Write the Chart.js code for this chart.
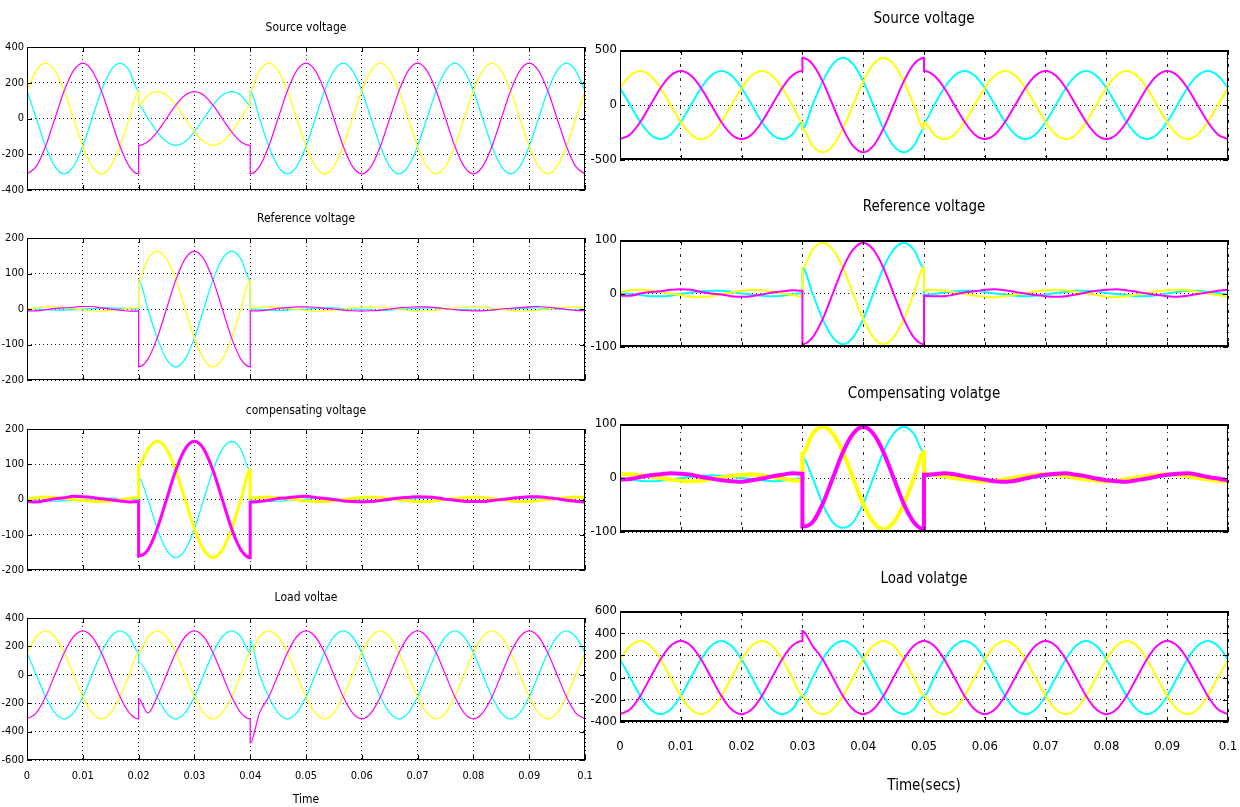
<!DOCTYPE html>
<html>
<head>
<meta charset="utf-8">
<script src="https://cdn.jsdelivr.net/npm/chart.js@4.4.1/dist/chart.umd.min.js"></script>
<style>
html, body { margin: 0; padding: 0; background: #fff; }
body { width: 1240px; height: 807px; position: relative; overflow: hidden; }
canvas { position: absolute; }
</style>
</head>
<body>
<canvas id="l1" width="600" height="181" style="left:0;top:18px"></canvas>
<canvas id="l2" width="600" height="180" style="left:0;top:209px"></canvas>
<canvas id="l3" width="600" height="178" style="left:0;top:401px"></canvas>
<canvas id="l4" width="600" height="219" style="left:0;top:588px"></canvas>
<canvas id="r1" width="650" height="162" style="left:590px;top:8px"></canvas>
<canvas id="r2" width="650" height="161" style="left:590px;top:196px"></canvas>
<canvas id="r3" width="650" height="159" style="left:590px;top:383px"></canvas>
<canvas id="r4" width="650" height="231" style="left:590px;top:568px"></canvas>
<script>
// time samples (s); a repeated time marks a step change
const leftTime = [0,0.00167,0.00333,0.005,0.00667,0.00833,0.01,0.01167,0.01333,0.015,0.01667,0.01833,0.02,
  0.02,0.02167,0.02333,0.025,0.02667,0.02833,0.03,0.03167,0.03333,0.035,0.03667,0.03833,0.04,
  0.04,0.04167,0.04333,0.045,0.04667,0.04833,0.05,0.05167,0.05333,0.055,0.05667,0.05833,0.06,0.06167,0.06333,0.065,0.06667,0.06833,0.07,0.07167,0.07333,0.075,0.07667,0.07833,0.08,0.08167,0.08333,0.085,0.08667,0.08833,0.09,0.09167,0.09333,0.095,0.09667,0.09833,0.1];
const rightTime = [0,0.00167,0.00333,0.005,0.00667,0.00833,0.01,0.01167,0.01333,0.015,0.01667,0.01833,0.02,0.02167,0.02333,0.025,0.02667,0.02833,0.03,
  0.03,0.03167,0.03333,0.035,0.03667,0.03833,0.04,0.04167,0.04333,0.045,0.04667,0.04833,0.05,
  0.05,0.05167,0.05333,0.055,0.05667,0.05833,0.06,0.06167,0.06333,0.065,0.06667,0.06833,0.07,0.07167,0.07333,0.075,0.07667,0.07833,0.08,0.08167,0.08333,0.085,0.08667,0.08833,0.09,0.09167,0.09333,0.095,0.09667,0.09833,0.1];

const xTicks = [0, 0.01, 0.02, 0.03, 0.04, 0.05, 0.06, 0.07, 0.08, 0.09, 0.1];

// left column: sag case
const srcM_L = [-310,-268,-155,0,155,268,310,268,155,0,-155,-268,-310,
  -150,-130,-75,0,75,130,150,130,75,0,-75,-130,-150,
  -310,-268,-155,0,155,268,310,268,155,0,-155,-268,-310,-268,-155,0,155,268,310,268,155,0,-155,-268,-310,-268,-155,0,155,268,310,268,155,0,-155,-268,-310];
const srcY_L = [155,268,310,268,155,0,-155,-268,-310,-268,-155,0,155,
  75,130,150,130,75,0,-75,-130,-150,-130,-75,0,75,
  155,268,310,268,155,0,-155,-268,-310,-268,-155,0,155,268,310,268,155,0,-155,-268,-310,-268,-155,0,155,268,310,268,155,0,-155,-268,-310,-268,-155,0,155];
const srcC_L = [155,0,-155,-268,-310,-268,-155,0,155,268,310,268,155,
  75,0,-75,-130,-150,-130,-75,0,75,130,150,130,75,
  155,0,-155,-268,-310,-268,-155,0,155,268,310,268,155,0,-155,-268,-310,-268,-155,0,155,268,310,268,155,0,-155,-268,-310,-268,-155,0,155,268,310,268,155];

const refM_L = [-5,-5,-2,2,3,5,7,7,3,0,-3,-6,-6,
  -163,-141,-82,0,82,141,163,141,82,0,-82,-141,-163,
  -5,-5,-2,2,4,6,6,5,2,0,-3,-5,-6,-5,-3,0,3,5,6,6,4,1,-2,-4,-5,-5,-3,0,2,4,6,7,5,2,-1,-4,-5];
const refY_L = [0,3,6,6,4,1,-2,-5,-6,-4,-1,2,4,
  82,141,163,141,82,0,-82,-141,-163,-141,-82,0,82,
  3,5,6,5,2,-1,-4,-6,-5,-3,0,3,5,6,5,2,-1,-4,-6,-5,-3,0,3,5,6,5,2,-1,-4,-6,-5,-3,0,3,5,6,4];
const refC_L = [2,0,-2,-3,-3,-2,0,1,3,3,2,1,0,
  82,0,-82,-141,-163,-141,-82,0,82,141,163,141,82,
  0,-1,-3,-4,-3,-1,0,2,3,3,1,0,-1,-3,-4,-3,-1,1,2,3,3,1,-1,-2,-3,-4,-3,-1,0,2,3,3,2,0,-2,-3,-3];

const compM_L = [-6,-7,-3,2,5,9,8,6,2,-1,-4,-7,-6,
  -160,-143,-83,0,83,143,165,143,83,0,-83,-143,-165,
  -8,-6,-2,3,5,8,9,6,3,0,-4,-6,-7,-6,-3,1,4,6,8,7,5,1,-2,-5,-6,-6,-3,0,3,6,8,8,5,2,-2,-5,-7];
const compY_L = [2,5,7,6,3,0,-3,-5,-6,-4,-1,3,6,
  95,143,165,143,83,0,-83,-143,-165,-143,-83,0,83,
  4,6,7,5,2,-1,-4,-6,-6,-3,0,3,6,7,5,2,-1,-4,-6,-6,-3,0,3,5,7,6,3,-1,-4,-6,-6,-3,0,3,5,7,5];
const compC_L = [0,-2,-4,-5,-4,-2,0,2,4,4,2,1,0,
  62,0,-83,-143,-165,-143,-83,0,83,143,165,143,82,
  -4,-3,-5,-5,-3,-1,1,3,4,3,1,-1,-2,-4,-5,-3,-1,1,3,4,3,1,-1,-3,-4,-5,-3,-1,1,3,4,4,2,0,-2,-4,-4];

const loadM_L = [-310,-268,-155,0,155,268,310,268,155,0,-155,-268,-310,
  -170,-268,-155,0,155,268,310,268,155,0,-155,-268,-310,
  -480,-268,-155,0,155,268,310,268,155,0,-155,-268,-310,-268,-155,0,155,268,310,268,155,0,-155,-268,-310,-268,-155,0,155,268,310,268,155,0,-155,-268,-310];
const loadY_L = [155,268,310,268,155,0,-155,-268,-310,-268,-155,0,155,
  155,268,310,268,155,0,-155,-268,-310,-268,-155,0,155,
  155,268,310,268,155,0,-155,-268,-310,-268,-155,0,155,268,310,268,155,0,-155,-268,-310,-268,-155,0,155,268,310,268,155,0,-155,-268,-310,-268,-155,0,155];
const loadC_L = [155,0,-155,-268,-310,-268,-155,0,155,268,310,268,155,
  90,0,-155,-268,-310,-268,-155,0,155,268,310,268,155,
  240,0,-155,-268,-310,-268,-155,0,155,268,310,268,155,0,-155,-268,-310,-268,-155,0,155,268,310,268,155,0,-155,-268,-310,-268,-155,0,155,268,310,268,155];

// right column: swell case
const srcM_R = [-310,-268,-155,0,155,268,310,268,155,0,-155,-268,-310,-268,-155,0,155,268,310,
  430,372,215,0,-215,-372,-430,-372,-215,0,215,372,430,
  310,268,155,0,-155,-268,-310,-268,-155,0,155,268,310,268,155,0,-155,-268,-310,-268,-155,0,155,268,310,268,155,0,-155,-268,-310];
const srcY_R = [155,268,310,268,155,0,-155,-268,-310,-268,-155,0,155,268,310,268,155,0,-155,
  -215,-372,-430,-372,-215,0,215,372,430,372,215,0,-215,
  -155,-268,-310,-268,-155,0,155,268,310,268,155,0,-155,-268,-310,-268,-155,0,155,268,310,268,155,0,-155,-268,-310,-268,-155,0,155];
const srcC_R = [155,0,-155,-268,-310,-268,-155,0,155,268,310,268,155,0,-155,-268,-310,-268,-155,
  -215,0,215,372,430,372,215,0,-215,-372,-430,-372,-215,
  -155,0,155,268,310,268,155,0,-155,-268,-310,-268,-155,0,155,268,310,268,155,0,-155,-268,-310,-268,-155,0,155,268,310,268,155];

const refM_R = [-4,-4,0,3,4,7,8,7,3,0,-2,-5,-6,-5,-2,2,4,6,5,
  -95,-82,-48,0,48,82,95,82,48,0,-48,-82,-95,
  -4,-5,-5,-2,2,4,7,8,6,3,0,-3,-5,-6,-5,-2,2,5,7,8,6,3,0,-3,-5,-6,-4,-1,2,5,7];
const refY_R = [2,6,7,6,3,0,-3,-6,-7,-5,-2,2,5,7,6,3,0,-3,-6,
  48,82,95,82,48,0,-48,-82,-95,-82,-48,0,48,
  6,7,5,2,-1,-4,-6,-7,-5,-2,1,4,6,7,6,3,0,-3,-6,-7,-5,-2,1,4,6,7,6,3,0,-3,-6];
const refC_R = [1,-1,-3,-5,-5,-4,-1,2,4,5,5,3,0,-2,-4,-5,-4,-2,1,
  48,0,-48,-82,-95,-82,-48,0,48,82,95,82,48,
  -3,-1,2,4,5,5,3,0,-2,-4,-5,-4,-2,1,3,5,5,4,1,-1,-3,-5,-5,-3,0,3,5,5,3,1,-2];

const compM_R = [-3,-2,2,5,7,9,8,6,2,-1,-4,-6,-7,-4,-1,3,6,9,8,
  -90,-82,-48,0,48,82,95,82,48,0,-48,-82,-95,
  6,7,9,7,3,0,-3,-6,-7,-5,-1,3,6,8,9,6,3,-1,-4,-6,-7,-4,-1,3,6,8,9,6,2,-1,-4];
const compY_R = [7,7,5,3,0,-3,-5,-6,-5,-2,1,4,6,7,5,2,-1,-4,-5,
  45,82,95,82,48,0,-48,-82,-95,-82,-48,0,48,
  8,6,3,0,-3,-5,-6,-5,-2,1,4,6,7,6,3,0,-3,-5,-6,-5,-2,1,4,6,7,6,3,0,-3,-5,-6];
const compC_R = [-1,-3,-5,-6,-5,-3,0,2,4,5,4,2,0,-2,-4,-6,-5,-3,0,
  38,0,-48,-82,-92,-82,-48,0,48,82,95,82,48,
  3,5,6,4,2,0,-3,-5,-6,-4,-2,1,3,5,6,4,2,-1,-3,-5,-6,-4,-1,1,4,5,6,4,1,-1,-3];

const loadM_R = [-330,-286,-165,0,165,286,330,286,165,0,-165,-286,-330,-286,-165,0,165,286,330,
  420,286,165,0,-165,-286,-330,-286,-165,0,165,286,330,
  330,286,165,0,-165,-286,-330,-286,-165,0,165,286,330,286,165,0,-165,-286,-330,-286,-165,0,165,286,330,286,165,0,-165,-286,-330];
const loadY_R = [165,286,330,286,165,0,-165,-286,-330,-286,-165,0,165,286,330,286,165,0,-165,
  -165,-286,-330,-286,-165,0,165,286,330,286,165,0,-165,
  -165,-286,-330,-286,-165,0,165,286,330,286,165,0,-165,-286,-330,-286,-165,0,165,286,330,286,165,0,-165,-286,-330,-286,-165,0,165];
const loadC_R = [165,0,-165,-286,-330,-286,-165,0,165,286,330,286,165,0,-165,-286,-330,-286,-165,
  -165,0,165,286,330,286,165,0,-165,-286,-330,-286,-165,
  -165,0,165,286,330,286,165,0,-165,-286,-330,-286,-165,0,165,286,330,286,165,0,-165,-286,-330,-286,-165,0,165,286,330,286,165];

const FONT = "'DejaVu Sans', 'Liberation Sans', sans-serif";
const STRETCH = 'condensed'; // goes into the weight slot of the font string

const LEFT = { yWidth: 27, padRight: 15, padBottom: 9, titleSize: 12, tickSize: 11, xOffset: 11, vDash: [1, 3], frameTB: 1,
  xTitle: 'Time', xTitleSize: 12, xTitlePad: { top: 12, bottom: 1 } };
const RIGHT = { yWidth: 30, padRight: 12, padBottom: 10, titleSize: 15, tickSize: 13, xOffset: 18, vDash: [3, 5, 1, 5], frameTB: 2,
  xTitle: 'Time(secs)', xTitleSize: 15, xTitlePad: { top: 26, bottom: 5 } };

// black box round the plot, with short inward ticks
const frame = {
  id: 'frame',
  afterDraw(chart, args, opts) {
    const { ctx, chartArea: a, scales: { x, y } } = chart;
    ctx.save();
    ctx.strokeStyle = '#000';
    ctx.lineWidth = 1;
    ctx.strokeRect(a.left + 0.5, a.top + 0.5, a.right - a.left - 1, a.bottom - a.top - 1);
    if (opts.tb > 1) {
      ctx.lineWidth = opts.tb;
      ctx.beginPath();
      ctx.moveTo(a.left, a.top + 1); ctx.lineTo(a.right, a.top + 1);
      ctx.moveTo(a.left, a.bottom - 1); ctx.lineTo(a.right, a.bottom - 1);
      ctx.stroke();
    }
    ctx.lineWidth = 1;
    ctx.beginPath();
    x.ticks.forEach(t => {
      const px = Math.round(x.getPixelForValue(t.value)) + 0.5;
      ctx.moveTo(px, a.top); ctx.lineTo(px, a.top + 5);
      ctx.moveTo(px, a.bottom); ctx.lineTo(px, a.bottom - 5);
    });
    y.ticks.forEach(t => {
      const py = Math.round(y.getPixelForValue(t.value)) + 0.5;
      ctx.moveTo(a.left, py); ctx.lineTo(a.left + 5, py);
      ctx.moveTo(a.right, py); ctx.lineTo(a.right - 5, py);
    });
    ctx.stroke();
    ctx.restore();
  }
};

function series(time, vals) {
  return time.map((t, i) => ({ x: t, y: vals[i] }));
}

function panel(id, side, o) {
  const last = !!o.bottom;
  new Chart(document.getElementById(id), {
    type: 'line',
    data: {
      datasets: [
        { data: series(o.time, o.m), borderColor: '#ff00ff', borderWidth: o.w[0] },
        { data: series(o.time, o.y), borderColor: '#ffff00', borderWidth: o.w[1] },
        { data: series(o.time, o.c), borderColor: '#00ffff', borderWidth: o.w[2] }
      ]
    },
    options: {
      responsive: false,
      animation: false,
      events: [],
      layout: { padding: { left: 0, right: side.padRight, top: 0, bottom: last ? 0 : side.padBottom } },
      elements: { point: { radius: 0 }, line: { cubicInterpolationMode: 'monotone' } },
      plugins: {
        legend: { display: false },
        tooltip: { enabled: false },
        title: {
          display: true, text: o.title, fullSize: false, color: '#000',
          font: { family: FONT, size: side.titleSize, lineHeight: 1, weight: STRETCH },
          padding: { top: 4, bottom: o.gap }
        },
        frame: { tb: side.frameTB }
      },
      scales: {
        x: {
          type: 'linear', min: 0, max: 0.1,
          afterBuildTicks: sc => { sc.ticks = xTicks.map(v => ({ value: v })); },
          grid: { color: '#222', drawTicks: last, tickLength: side.xOffset, tickColor: 'rgba(0,0,0,0)' },
          border: { display: false, dash: side.vDash },
          ticks: {
            display: last, autoSkip: false, maxRotation: 0, padding: 0, color: '#000',
            font: { family: FONT, size: side.tickSize, lineHeight: 1, weight: STRETCH },
            callback: v => String(+v.toFixed(2))
          },
          title: {
            display: last, text: side.xTitle, color: '#000', padding: side.xTitlePad,
            font: { family: FONT, size: side.xTitleSize, lineHeight: 1, weight: STRETCH }
          }
        },
        y: {
          min: o.min, max: o.max,
          afterFit: sc => { sc.width = side.yWidth; },
          grid: { color: '#222', drawTicks: false },
          border: { display: false, dash: [1, 3] },
          ticks: {
            stepSize: o.step, autoSkip: false, padding: 3, color: '#000',
            font: { family: FONT, size: side.tickSize, lineHeight: 1, weight: STRETCH },
            callback: v => String(v)
          }
        }
      }
    },
    plugins: [frame]
  });
}

panel('l1', LEFT, { title: 'Source voltage', gap: 13, time: leftTime, m: srcM_L, y: srcY_L, c: srcC_L, w: [1.2, 1.2, 1.2], min: -400, max: 400, step: 200 });
panel('l2', LEFT, { title: 'Reference voltage', gap: 13, time: leftTime, m: refM_L, y: refY_L, c: refC_L, w: [1.2, 1.2, 1.2], min: -200, max: 200, step: 100 });
panel('l3', LEFT, { title: 'compensating voltage', gap: 12, time: leftTime, m: compM_L, y: compY_L, c: compC_L, w: [3, 3, 1.2], min: -200, max: 200, step: 100 });
panel('l4', LEFT, { title: 'Load voltae', gap: 14, time: leftTime, m: loadM_L, y: loadY_L, c: loadC_L, w: [1.2, 1.2, 1.2], min: -600, max: 400, step: 200, bottom: true });

panel('r1', RIGHT, { title: 'Source voltage', gap: 23, time: rightTime, m: srcM_R, y: srcY_R, c: srcC_R, w: [2, 2, 2], min: -500, max: 500, step: 500 });
panel('r2', RIGHT, { title: 'Reference voltage', gap: 25, time: rightTime, m: refM_R, y: refY_R, c: refC_R, w: [2, 2, 2], min: -100, max: 100, step: 100 });
panel('r3', RIGHT, { title: 'Compensating volatge', gap: 22, time: rightTime, m: compM_R, y: compY_R, c: compC_R, w: [4, 4, 2], min: -100, max: 100, step: 100 });
panel('r4', RIGHT, { title: 'Load volatge', gap: 24, time: rightTime, m: loadM_R, y: loadY_R, c: loadC_R, w: [2, 2, 2], min: -400, max: 600, step: 200, bottom: true });
</script>
</body>
</html>
